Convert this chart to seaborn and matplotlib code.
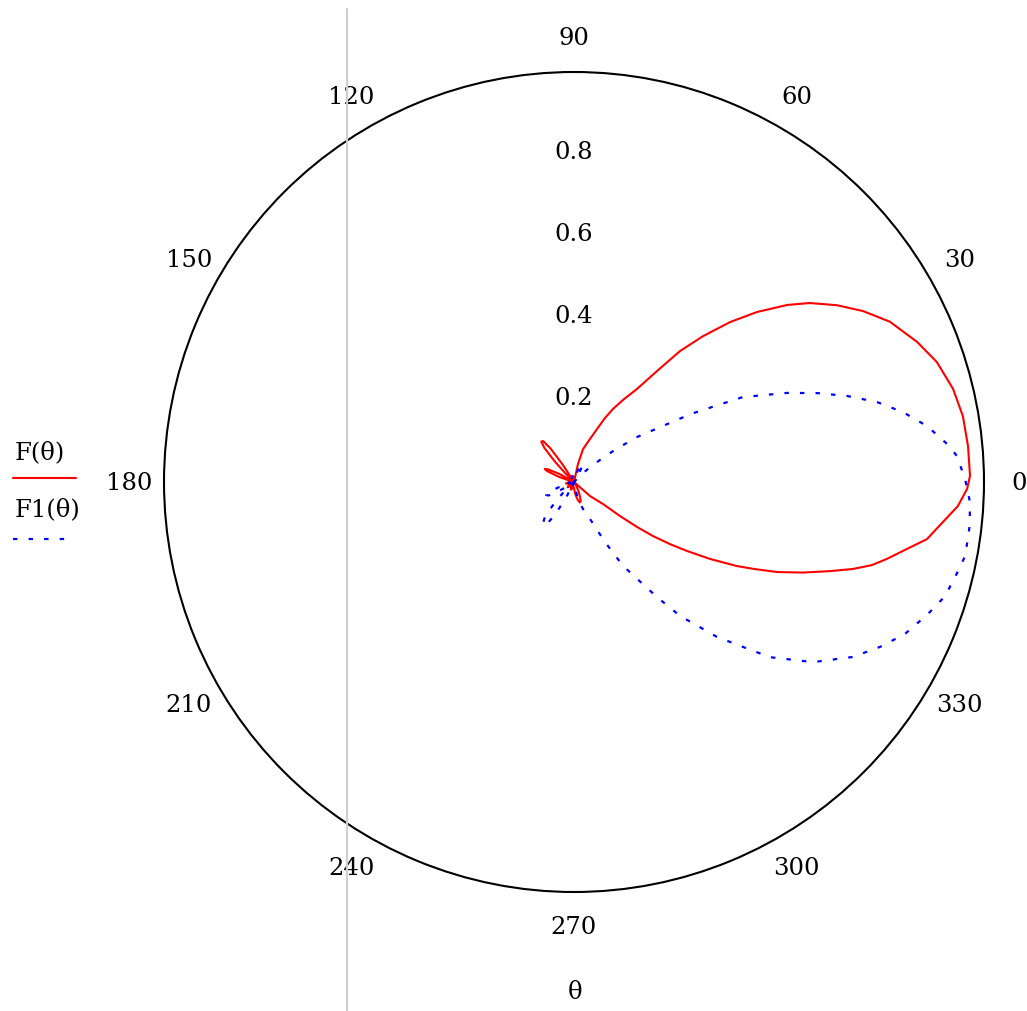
import numpy as np
import pandas as pd
import matplotlib
matplotlib.use("Agg")
import matplotlib.pyplot as plt
import seaborn as sns
from matplotlib.lines import Line2D

# pattern data (angle in degrees, normalised amplitude)
red_theta = [-180, -170, -160, -150, -140, -130, -120, -110, -100, -90, -84, -78, -74, -71, -68,
             -64, -58, -52, -47, -44, -41.2, -37.2, -36.5, -35.5, -34.4, -32.9, -31.4, -29.5, -27.3,
             -25.7, -23.9, -21.6, -19.2, -17.3, -15.6, -13.8, -11.6, -9.2, -6.2, -3.6, -1.0, 0.9,
             5.2, 9.6, 13.8, 18.3, 22.2, 26.9, 30.6, 33.9, 37.2, 39.7, 42.9, 45.7, 48.5, 51, 53.2,
             55.9, 58.9, 61.9, 64.2, 66.5, 69.6, 74.7, 77.5, 82, 90, 100, 110, 120, 123,
             125, 127, 129, 131, 133, 135, 138, 144, 148, 151, 154, 156, 158, 161, 164, 168, 175, 180]
red_r = [0.01, 0.02, 0.01, 0.015, 0.02, 0.01, 0.015, 0.02, 0.01, 0.015, 0.03, 0.045, 0.052, 0.05, 0.04,
         0.025, 0.01, 0.005, 0.01, 0.0, 0.052, 0.089, 0.14, 0.189, 0.233, 0.279, 0.323, 0.381, 0.447,
         0.49, 0.542, 0.6, 0.661, 0.713, 0.754, 0.786, 0.824, 0.872, 0.905, 0.938, 0.959, 0.966,
         0.965, 0.962, 0.952, 0.932, 0.904, 0.864, 0.819, 0.773, 0.722, 0.676, 0.609, 0.545, 0.475, 0.411, 0.338,
         0.274, 0.236, 0.202, 0.173, 0.141, 0.112, 0.083, 0.045, 0.0, 0.01, 0.015, 0.01, 0.0, 0.05,
         0.1, 0.125, 0.127, 0.11, 0.07, 0.03, 0.0, 0.005, 0.0, 0.04, 0.07, 0.078, 0.07, 0.04, 0.01, 0.005, 0.01, 0.01]

blue_theta = [-180, -170, -164, -161, -158, -155, -152, -149, -146, -138, -135, -132, -129, -126, -123,
              -120, -117, -114, -105, -95, -85, -80, -76, -71.6, -66.6, -62.7, -59.7, -54.2, -51.6, -47.3,
              -44.3, -41.8, -37, -32.1, -28.3, -24.7, -20.5, -17.1, -13.2, -10.7, -6.3, -2.9, 0.4, 3.9, 5.8,
              9, 12, 14.8, 17.5, 20.1, 22.7, 26.7, 28.2, 30.2, 32.2, 35.5, 38, 40, 43, 46, 50,
              58, 63, 67, 72, 78, 90, 110, 130, 150, 170, 180]
blue_r = [0.01, 0.015, 0.01, 0.04, 0.068, 0.075, 0.07, 0.045, 0.01, 0.0, 0.04, 0.08, 0.115, 0.13, 0.125,
          0.09, 0.04, 0.0, 0.015, 0.01, 0.01, 0.02, 0.045, 0.069, 0.098, 0.165, 0.237, 0.346, 0.417, 0.514,
          0.576, 0.641, 0.73, 0.803, 0.848, 0.888, 0.921, 0.947, 0.961, 0.971, 0.971, 0.967, 0.954, 0.936, 0.915,
          0.872, 0.82, 0.764, 0.698, 0.631, 0.563, 0.461, 0.395, 0.33, 0.257, 0.189, 0.13, 0.09, 0.05, 0.02, 0.0,
          0.02, 0.045, 0.05, 0.03, 0.005, 0.01, 0.015, 0.01, 0.015, 0.01, 0.01]

angle_ticks = [0, 30, 60, 90, 120, 150, 180, 210, 240, 270, 300, 330]
radial_ticks = [0.2, 0.4, 0.6, 0.8]

red_df = pd.DataFrame({"theta": np.deg2rad(red_theta), "r": red_r})
blue_df = pd.DataFrame({"theta": np.deg2rad(blue_theta), "r": blue_r})

sns.set_style("white")
plt.rcParams["font.family"] = ["DejaVu Serif"]
plt.rcParams["text.color"] = "black"
fs = 17.5

W, H = 1027, 1012
fig = plt.figure(figsize=(W / 100, H / 100), dpi=100)
ax = fig.add_axes([(574 - 410) / W, (H - 893) / H, 820 / W, 820 / H], projection="polar")

sns.lineplot(data=red_df, x="theta", y="r", sort=False, estimator=None,
             color="red", linewidth=1.5, ax=ax)
sns.lineplot(data=blue_df, x="theta", y="r", sort=False, estimator=None,
             color="blue", linewidth=1.6, linestyle=(0, (2, 5)), ax=ax)

ax.set_ylim(0, 1)
ax.grid(False)
ax.set_xticks([])
ax.set_yticks([])
ax.set_xlabel("")
ax.set_ylabel("")
ax.spines["polar"].set_color("black")
ax.spines["polar"].set_linewidth(1.5)

# angle labels round the circle
for a in angle_ticks:
    ax.text(np.deg2rad(a), 1.085, str(a), ha="center", va="center", fontsize=fs,
            color="black", clip_on=False)
# radial labels along 90 deg
for r in radial_ticks:
    ax.text(np.pi / 2, r + 0.005, str(r), ha="center", va="center", fontsize=fs, color="black")

# Mathcad style legend on the left
fig.text(15 / W, 1 - 453 / H, "F(θ)", ha="left", va="center", fontsize=fs)
fig.add_artist(Line2D([13 / W, 76 / W], [1 - 479 / H] * 2, color="red", lw=1.5))
fig.text(15 / W, 1 - 510 / H, "F1(θ)", ha="left", va="center", fontsize=fs)
fig.add_artist(Line2D([13 / W, 66 / W], [1 - 540 / H] * 2, color="blue", lw=1.6,
                      linestyle=(0, (2, 5))))

fig.text(575 / W, 1 - 993 / H, "θ", ha="center", va="center", fontsize=fs)

# the grey separator line at the left of the plot area
fig.add_artist(Line2D([347 / W, 347 / W], [0, 1 - 10 / H], color="#cfcfcf", lw=1.6))

fig.savefig("out.png", dpi=100)
